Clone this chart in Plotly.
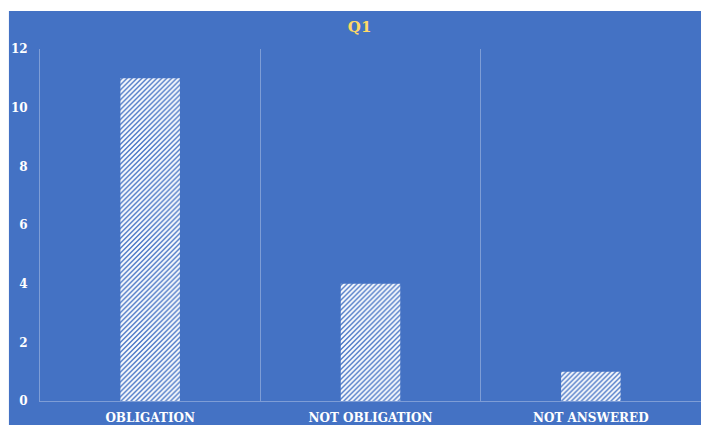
import plotly.graph_objects as go

categories = ["OBLIGATION", "NOT OBLIGATION", "NOT ANSWERED"]
values = [11, 4, 1]
y_ticks = [0, 2, 4, 6, 8, 10, 12]

BLUE = "#4472C4"
GRID = "#7E9DD6"
FONT = "DejaVu Serif"

fig = go.Figure()
fig.add_trace(go.Bar(
    x=categories, y=values, width=0.27,
    marker=dict(
        color=BLUE,
        line=dict(width=0),
        pattern=dict(shape="/", fgcolor="white", bgcolor=BLUE, fgopacity=1,
                     size=3.5, solidity=0.6),
    ),
))

fig.add_shape(type="rect", xref="paper", yref="paper", x0=-0.047, x1=1.05, y0=-0.2, y1=1.108,
              fillcolor=BLUE, line=dict(width=0), layer="below")

fig.update_layout(
    width=701, height=425,
    margin=dict(l=40, r=0, t=49, b=24),
    paper_bgcolor="white", plot_bgcolor=BLUE,
    showlegend=False,
    title=dict(text="<b>Q1</b>", x=0.513, xanchor="center", y=0.936, yanchor="middle",
               font=dict(family=FONT, size=15, color="#FFD966")),
    xaxis=dict(
        range=[-0.5, 2.5], tickson="boundaries", showgrid=True, gridcolor=GRID, gridwidth=1,
        showline=True, linecolor=GRID, linewidth=1, ticks="", ticklabelstandoff=6,
        tickfont=dict(family=FONT, size=12, color="white", weight="bold"),
    ),
    yaxis=dict(
        range=[0, 12], tickvals=y_ticks, showgrid=False, zeroline=False,
        showline=True, linecolor=GRID, linewidth=1, ticks="", ticklabelstandoff=9,
        tickfont=dict(family=FONT, size=12, color="white", weight="bold"),
    ),
)

fig.write_html("out.html")
